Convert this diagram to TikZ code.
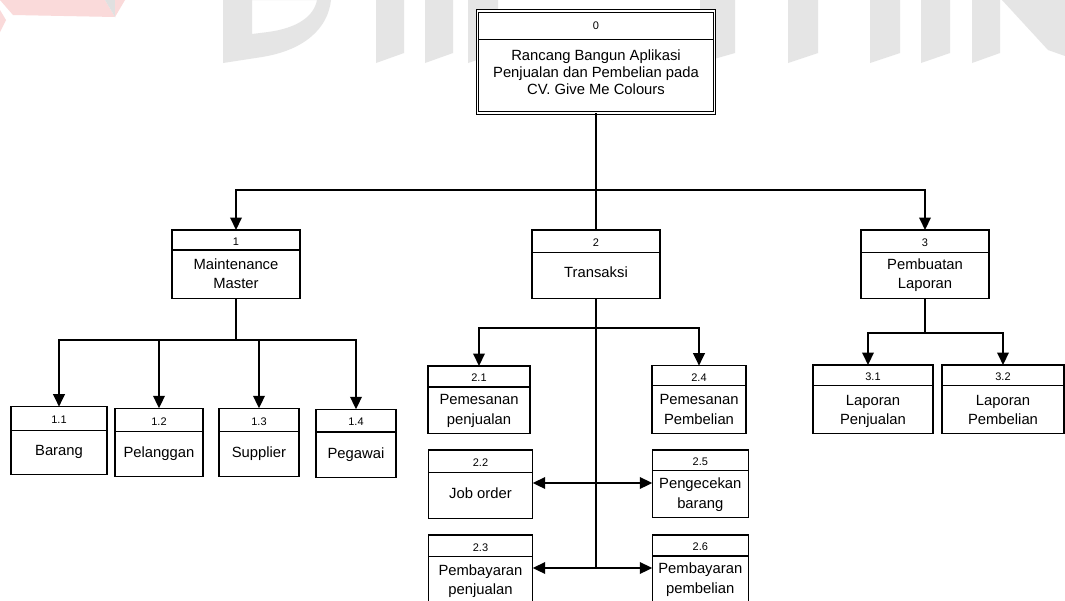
\documentclass[tikz,border=0pt]{standalone}
\usepackage{fontspec}
\setmainfont{Liberation Sans}
\usetikzlibrary{arrows.meta}

\definecolor{wmgray}{RGB}{229,229,229}
\definecolor{wmpink}{RGB}{250,218,218}
\definecolor{wmlogo}{RGB}{224,224,224}

\tikzset{
  pbox/.style={rectangle, draw=black, line width=1.4pt, fill=white, inner sep=0pt, outer sep=0pt},
  pdiv/.style={draw=black, line width=1.2pt},
  pnum/.style={font=\fontsize{11}{12}\selectfont, inner sep=0pt},
  ptext/.style={font=\fontsize{14.8}{19.5}\selectfont, align=center, inner sep=0pt},
  conn/.style={draw=black, line width=2pt},
  arr/.style={conn, -{Triangle[length=12.5pt,width=11.5pt]}},
}

% #1 name, #2 left, #3 top, #4 right, #5 bottom, #6 divider y, #7 number, #8 text y, #9 text
\newcommand\procbox[9]{%
  \node[pbox, minimum width={(#4-#2)*1pt}, minimum height={(#5-#3)*1pt}] (#1) at ({(#2+#4)/2},{(#3+#5)/2}) {};
  \draw[pdiv] (#1.west |- 0,#6) -- (#1.east |- 0,#6);
  \node[pnum] (#1-num) at ({(#2+#4)/2},{(#3+#6)/2+1.5}) {#7};
  \node[ptext] (#1-txt) at ({(#2+#4)/2},#8) {#9};
}

\begin{document}
\begin{tikzpicture}[x=1pt,y=-1pt]
\useasboundingbox (0,0) rectangle (1065,600);
\fill[white] (0,0) rectangle (1065,600);

% faint logo and lettering in the background
\fill[wmpink] (0,0) -- (13,15) -- (115,17) -- (105,0) -- cycle;
\fill[wmlogo] (105,0) -- (115,17) -- (115,0) -- cycle;
\fill[wmpink] (115,0) -- (115,17) -- (125,0) -- cycle;
\fill[wmpink] (0,10) -- (6,20) -- (0,32) -- cycle;
\fill[wmgray, even odd rule]
  (223,0) -- (223,63) -- (262,57) .. controls (305,50) and (328,28) .. (331,0) -- cycle
  (252,0) -- (252,34) -- (268,32) .. controls (298,28) and (314,16) .. (317,0) -- cycle;
\foreach \a/\b in {376/404, 425/453, 468/498, 700/735, 788/818, 870/900, 921/950, 972/1000}
  \fill[wmgray] (\a,0) -- (\a,63) -- (\b,53) -- (\b,0) -- cycle;
\fill[wmgray] (1002,0) -- (1048,50) -- (1065,56) -- (1065,0) -- cycle;

% root process
\node[draw=black, double, line width=0.9pt, double distance=1.8pt, fill=white,
      minimum width=237pt, minimum height=102.2pt, inner sep=0pt, outer sep=0pt]
      (b0) at (596,62.1) {};
\draw[pdiv, line width=1pt, shorten <=1.8pt, shorten >=1.8pt] (b0.west |- 0,39) -- (b0.east |- 0,39);
\node[pnum] (b0-num) at (596,26) {0};
\node[ptext, font=\fontsize{14.8}{17}\selectfont] (b0-txt) at (596,72)
  {Rancang Bangun Aplikasi\\Penjualan dan Pembelian pada\\CV. Give Me Colours};

% first level
\procbox{b1}{172}{230}{300}{298.3}{250}{1}{273.5}{Maintenance\\Master}
\procbox{b2}{532}{230}{660}{298.3}{252.7}{2}{272.7}{Transaksi}
\procbox{b3}{861}{230}{989}{298.3}{252.7}{3}{275.3}{Pembuatan\\Laporan}

% second level under 1
\procbox{b11}{11}{406.7}{107}{474.3}{430.7}{1.1}{451.5}{Barang}
\procbox{b12}{115}{408.3}{203}{476.7}{431.7}{1.2}{453.2}{Pelanggan}
\procbox{b13}{219}{408.3}{299}{476.7}{431.7}{1.3}{453.2}{Supplier}
\procbox{b14}{316}{409.3}{396}{477.7}{432}{1.4}{454.8}{Pegawai}

% second level under 2
\procbox{b21}{428}{366}{530}{433.3}{387}{2.1}{411}{Pemesanan\\penjualan}
\procbox{b22}{428.3}{450}{532.7}{518.3}{472.3}{2.2}{493.3}{Job order}
\procbox{b23}{428.3}{535}{532.7}{610}{556.7}{2.3}{581}{Pembayaran\\penjualan}
\procbox{b24}{652}{365.7}{746}{433.3}{385.7}{2.4}{409.3}{Pemesanan\\Pembelian}
\procbox{b25}{652.3}{450}{748.3}{517.7}{470.7}{2.5}{494.8}{Pengecekan\\barang}
\procbox{b26}{652.3}{535}{748.3}{610}{556}{2.6}{579.5}{Pembayaran\\pembelian}

% second level under 3
\procbox{b31}{813}{365}{933}{433.3}{385.7}{3.1}{411.5}{Laporan\\Penjualan}
\procbox{b32}{942}{365}{1064}{433.3}{385.7}{3.2}{410}{Laporan\\Pembelian}

% connectors from the root
\coordinate (j0) at (b0.south |- 0,190);
\draw[conn] (b0.south) -- (b2.north);
\draw[arr] (j0) -| (b1.north);
\draw[arr] (j0) -| (b3.north);

% connectors under 1
\coordinate (j1) at (b1.south |- 0,340);
\draw[conn] (b1.south) -- (j1);
\draw[arr] (j1) -| (b11.north);
\draw[arr] (j1) -| (b12.north);
\draw[arr] (j1) -| (b13.north);
\draw[arr] (j1) -| (b14.north);

% connectors under 2
\coordinate (j2) at (b2.south |- 0,328);
\coordinate (j2c) at (b2.south |- 0,483);
\coordinate (j2d) at (b2.south |- 0,568);
\draw[conn] (b2.south) -- (j2d);
\draw[arr] (j2) -| (b21.north);
\draw[arr] (j2) -| (b24.north);
\draw[arr] (j2c) -- (j2c -| b22.east);
\draw[arr] (j2c) -- (j2c -| b25.west);
\draw[arr] (j2d) -- (j2d -| b23.east);
\draw[arr] (j2d) -- (j2d -| b26.west);

% connectors under 3
\coordinate (j3) at (b3.south |- 0,333);
\draw[conn] (b3.south) -- (j3);
\draw[arr] (j3) -| ([xshift=-5pt]b31.north);
\draw[arr] (j3) -| (b32.north);
\end{tikzpicture}
\end{document}
